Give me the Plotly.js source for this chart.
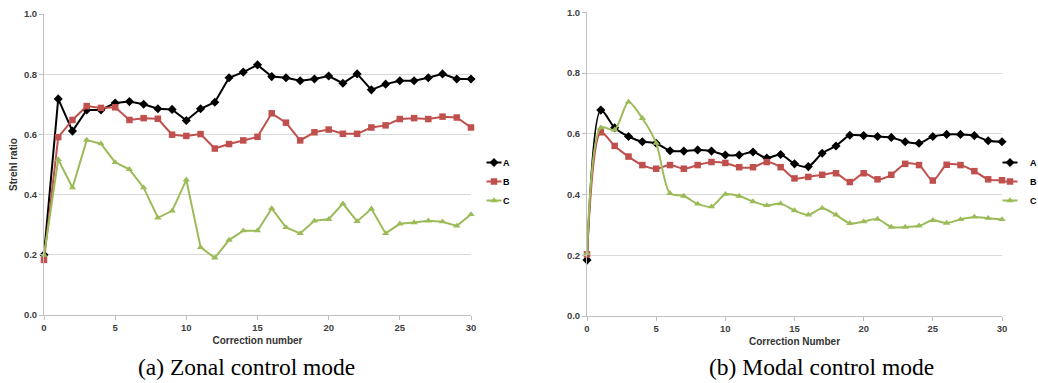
<!DOCTYPE html>
<html>
<head>
<meta charset="utf-8">
<script src="https://cdn.plot.ly/plotly-3.0.1.min.js"></script>
<style>
html,body{margin:0;padding:0;background:#fff;overflow:hidden;width:1038px;height:383px;}
#chart{width:1080px;height:383px;}
/* Excel-like compact legend keys */
#chart .legendlines path{transform-box:fill-box;transform-origin:center;transform:scaleX(0.5);}
#chart .legendtext{transform:translateX(-11px);}
</style>
</head>
<body>
<div id="chart"></div>
<script>
// Correction numbers 0..30
const correction = [0,1,2,3,4,5,6,7,8,9,10,11,12,13,14,15,16,17,18,19,20,21,22,23,24,25,26,27,28,29,30];

// (a) Zonal control mode
const zonalA = [0.200,0.718,0.611,0.681,0.681,0.704,0.709,0.700,0.685,0.683,0.646,0.685,0.707,0.788,0.807,0.831,0.792,0.788,0.778,0.784,0.794,0.770,0.801,0.748,0.767,0.778,0.778,0.788,0.801,0.784,0.784];
const zonalB = [0.183,0.591,0.648,0.694,0.688,0.690,0.648,0.654,0.652,0.599,0.595,0.601,0.553,0.568,0.580,0.592,0.670,0.639,0.580,0.607,0.616,0.602,0.602,0.623,0.630,0.651,0.654,0.651,0.659,0.656,0.623];
const zonalC = [0.199,0.517,0.423,0.581,0.569,0.507,0.484,0.423,0.323,0.346,0.449,0.225,0.190,0.249,0.280,0.280,0.354,0.291,0.271,0.313,0.318,0.370,0.311,0.353,0.271,0.303,0.307,0.313,0.310,0.296,0.334];

// (b) Modal control mode
const modalA = [0.184,0.678,0.620,0.591,0.574,0.569,0.544,0.543,0.547,0.543,0.530,0.530,0.540,0.520,0.532,0.501,0.492,0.536,0.560,0.595,0.594,0.591,0.588,0.574,0.569,0.591,0.598,0.598,0.594,0.577,0.574];
const modalB = [0.203,0.605,0.560,0.525,0.497,0.485,0.497,0.485,0.497,0.507,0.504,0.490,0.490,0.507,0.490,0.453,0.458,0.465,0.470,0.441,0.470,0.450,0.465,0.501,0.497,0.446,0.498,0.497,0.477,0.450,0.447];
const modalC = [0.206,0.620,0.613,0.705,0.651,0.569,0.404,0.395,0.369,0.360,0.401,0.395,0.377,0.364,0.370,0.347,0.333,0.355,0.333,0.305,0.311,0.319,0.293,0.293,0.297,0.315,0.306,0.318,0.326,0.322,0.318];

const seriesNames = ['A','B','C'];
const colors = ['#000000','#c0504d','#9bbb59'];
const symbols = ['diamond','square','triangle-up'];
const msizes = [7,6.5,6.5];

const xTickVals = [0,5,10,15,20,25,30];
const yTickVals = [0,0.2,0.4,0.6,0.8,1.0];
const yTickText = ['0.0','0.2','0.4','0.6','0.8','1.0'];

const W = 1080, H = 383;

const traces = [];
[zonalA, zonalB, zonalC].forEach((ys, k) => {
  traces.push({
    x: correction, y: ys, name: seriesNames[k], type: 'scatter', mode: 'lines+markers',
    xaxis: 'x', yaxis: 'y', legend: 'legend', cliponaxis: false,
    line: {color: colors[k], width: 2},
    marker: {symbol: symbols[k], size: msizes[k], color: colors[k]}
  });
});
[modalA, modalB, modalC].forEach((ys, k) => {
  traces.push({
    x: correction, y: ys, name: seriesNames[k], type: 'scatter', mode: 'lines+markers',
    xaxis: 'x2', yaxis: 'y2', legend: 'legend2', cliponaxis: false,
    line: {color: colors[k], width: 2, shape: 'spline', smoothing: 0.8},
    marker: {symbol: symbols[k], size: msizes[k], color: colors[k]}
  });
});

const tickFont = {family: 'Liberation Sans, Arial, sans-serif', size: 9.5, color: '#404040', weight: 'bold'};
const axTitleFont = {family: 'Liberation Sans, Arial, sans-serif', size: 10, color: '#333333', weight: 'bold'};

function xAx(domain, title) {
  return {
    domain: domain, range: [0, 30], tickvals: xTickVals, showgrid: false, zeroline: false,
    showline: true, linecolor: '#bfbfbf', linewidth: 1, ticks: 'outside', ticklen: 4, tickcolor: '#bfbfbf',
    tickfont: tickFont, title: {text: title, font: axTitleFont, standoff: 4}, fixedrange: true
  };
}
function yAx(domain, anchor, title) {
  const a = {
    domain: domain, range: [0, 1], tickvals: yTickVals, ticktext: yTickText, showgrid: true, gridcolor: '#d9d9d9',
    zeroline: false, showline: true, linecolor: '#bfbfbf', linewidth: 1, ticks: 'outside', ticklen: 4, tickcolor: '#bfbfbf',
    tickfont: tickFont, anchor: anchor, fixedrange: true
  };
  if (title) a.title = {text: title, font: axTitleFont, standoff: 4};
  return a;
}

const legendFont = {family: 'Liberation Sans, Arial, sans-serif', size: 9, color: '#000', weight: 'bold'};

const layout = {
  width: W, height: H,
  margin: {l: 0, r: 0, t: 0, b: 0},
  paper_bgcolor: '#ffffff', plot_bgcolor: '#ffffff',
  showlegend: true,
  xaxis: Object.assign(xAx([44/W, 471/W], 'Correction number'), {anchor: 'y'}),
  yaxis: yAx([68/H, 369/H], 'x', 'Strehl ratio'),
  xaxis2: Object.assign(xAx([587/W, 1002/W], 'Correction Number'), {anchor: 'y2'}),
  yaxis2: yAx([67/H, 370.7/H], 'x2', null),
  legend: {x: 474/W, xanchor: 'left', y: (H-148)/H, yanchor: 'top', font: legendFont,
           bgcolor: 'rgba(0,0,0,0)', borderwidth: 0, itemwidth: 30, tracegroupgap: 0},
  legend2: {x: 990/W, xanchor: 'left', y: (H-148)/H, yanchor: 'top', font: legendFont,
           bgcolor: 'rgba(0,0,0,0)', borderwidth: 0, itemwidth: 30, tracegroupgap: 0},
  annotations: [
    {text: '(a) Zonal control mode', xref: 'paper', yref: 'paper', x: 246/W, y: (H-367)/H,
     xanchor: 'center', yanchor: 'middle', showarrow: false,
     font: {family: 'Liberation Serif, Times New Roman, serif', size: 23.5, color: '#000'}},
    {text: '(b) Modal control mode', xref: 'paper', yref: 'paper', x: 821/W, y: (H-367)/H,
     xanchor: 'center', yanchor: 'middle', showarrow: false,
     font: {family: 'Liberation Serif, Times New Roman, serif', size: 23.5, color: '#000'}}
  ]
};

Plotly.newPlot('chart', traces, layout, {displayModeBar: false, staticPlot: true});
</script>
</body>
</html>
